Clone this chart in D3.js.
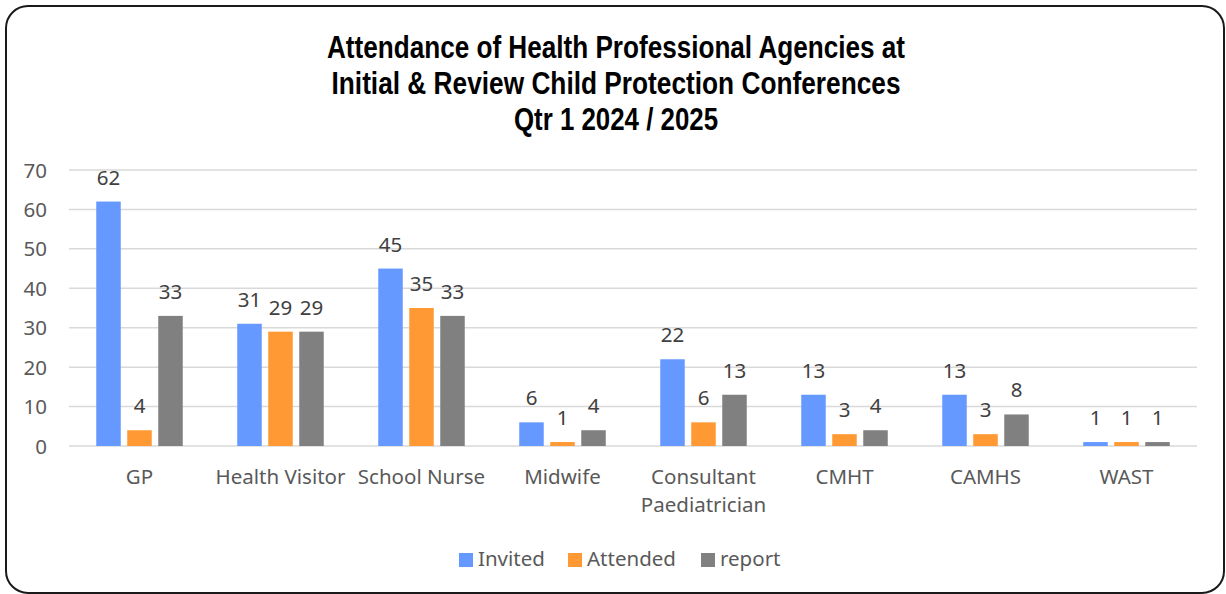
<!DOCTYPE html>
<html>
<head>
<meta charset="utf-8">
<script src="https://cdn.jsdelivr.net/npm/d3@7"></script>
<style>
  body { margin: 0; background: #fff; }
  text { font-family: "Noto Sans", "Open Sans", sans-serif; }
</style>
</head>
<body>
<script>
var categories = ["GP", "Health Visitor", "School Nurse", "Midwife", "Consultant Paediatrician", "CMHT", "CAMHS", "WAST"]
var seriesNames = ["Invited", "Attended", "report"]
var invited = [62, 31, 45, 6, 22, 13, 13, 1]
var attended = [4, 29, 35, 1, 6, 3, 3, 1]
var report = [33, 29, 33, 4, 13, 4, 8, 1]
var yTicks = [0, 10, 20, 30, 40, 50, 60, 70]
var titleLines = ["Attendance of Health Professional Agencies at", "Initial & Review Child Protection Conferences", "Qtr 1 2024 / 2025"]

var width = 1226
var height = 594
var margin = { top: 170, bottom: 148, left: 69, right: 29 }
var colores = ["#6699ff", "#ff9933", "#808080"]
var valores = [invited, attended, report]
var fs = 20.5

var svg = d3.select("body")
  .append("svg")
  .attr("width", width)
  .attr("height", height)

// rounded frame
svg.append("rect")
  .attr("x", 6).attr("y", 6)
  .attr("width", 1218).attr("height", 587)
  .attr("rx", 22).attr("ry", 22)
  .attr("fill", "white")
  .attr("stroke", "#1a1a1a")
  .attr("stroke-width", 2)

// title (narrow bold look, squeezed to width)
var titleW = [578, 569, 204]
svg.append("g")
  .selectAll("text")
  .data(titleLines)
  .enter()
  .append("text")
    .attr("x", 616)
    .attr("y", (d, i) => 58 + i * 36)
    .attr("text-anchor", "middle")
    .attr("font-weight", "bold")
    .attr("font-size", 31)
    .attr("fill", "#000")
    .attr("textLength", (d, i) => titleW[i])
    .attr("lengthAdjust", "spacingAndGlyphs")
    .style("font-family", "'Liberation Sans', Arial, sans-serif")
    .text(d => d)

var escalaX = d3.scaleBand()
  .domain(categories)
  .range([margin.left, width - margin.right])

var escalaY = d3.scaleLinear()
  .domain([0, 70])
  .range([height - margin.bottom, margin.top])

var barW = 24.5
var step = 31

// gridlines
svg.append("g")
  .selectAll("line")
  .data(yTicks)
  .enter()
  .append("line")
    .attr("x1", margin.left)
    .attr("x2", width - margin.right)
    .attr("y1", d => escalaY(d))
    .attr("y2", d => escalaY(d))
    .attr("stroke", "#d9d9d9")
    .attr("stroke-width", 1.5)

// y tick labels
svg.append("g")
  .selectAll("text")
  .data(yTicks)
  .enter()
  .append("text")
    .attr("x", 47)
    .attr("y", d => escalaY(d) + 7.5)
    .attr("text-anchor", "end")
    .attr("font-size", fs)
    .attr("fill", "#595959")
    .text(d => d)

// bars + labels
valores.forEach(function(serie, s) {
  var g = svg.append("g")
  var cx = (c) => escalaX(c) + escalaX.bandwidth() / 2 + (s - 1) * step
  g.selectAll("rect")
    .data(categories)
    .enter()
    .append("rect")
      .attr("x", d => cx(d) - barW / 2)
      .attr("width", barW)
      .attr("y", (d, i) => escalaY(serie[i]))
      .attr("height", (d, i) => escalaY(0) - escalaY(serie[i]))
      .attr("fill", colores[s])
  g.selectAll("text")
    .data(categories)
    .enter()
    .append("text")
      .attr("x", d => cx(d))
      .attr("y", (d, i) => escalaY(serie[i]) - 17)
      .attr("text-anchor", "middle")
      .attr("font-size", fs)
      .attr("fill", "#404040")
      .text((d, i) => serie[i])
})

// category labels
var catG = svg.append("g")
categories.forEach(function(c) {
  var words = c === "Consultant Paediatrician" ? ["Consultant", "Paediatrician"] : [c]
  words.forEach(function(w, j) {
    catG.append("text")
      .attr("x", escalaX(c) + escalaX.bandwidth() / 2)
      .attr("y", 484 + j * 28)
      .attr("text-anchor", "middle")
      .attr("font-size", fs)
      .attr("fill", "#595959")
      .text(w)
  })
})

// legend
var legX = [459, 568, 701]
var leg = svg.append("g")
seriesNames.forEach(function(n, i) {
  leg.append("rect")
    .attr("x", legX[i]).attr("y", 553)
    .attr("width", 14).attr("height", 14)
    .attr("fill", colores[i])
  leg.append("text")
    .attr("x", legX[i] + 19).attr("y", 566)
    .attr("font-size", fs)
    .attr("fill", "#595959")
    .text(n)
})
</script>
</body>
</html>
